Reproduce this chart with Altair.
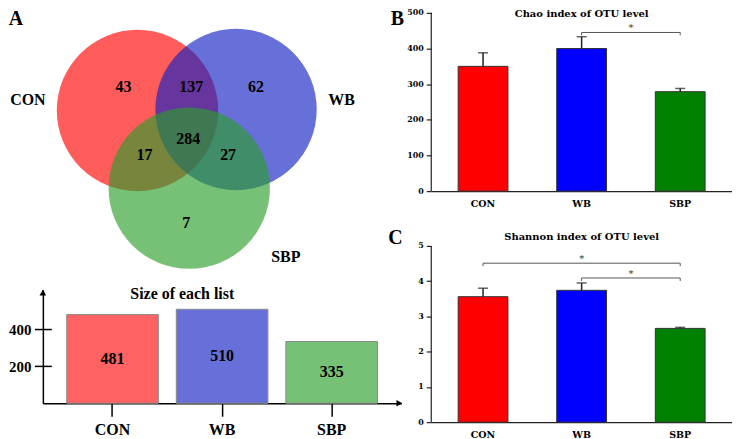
import altair as alt
import pandas as pd

# ---------------- data ----------------
groups = ["CON", "WB", "SBP"]
venn_regions = ["CON", "CON&WB", "WB", "CON&WB&SBP", "CON&SBP", "WB&SBP", "SBP"]
venn_counts = [43, 137, 62, 284, 17, 27, 7]
list_sizes = [481, 510, 335]
chao_mean = [350, 400, 279]
chao_err = [38, 33, 9]
shannon_mean = [3.56, 3.74, 2.66]
shannon_err = [0.24, 0.21, 0.03]
chao_sig_from = ["WB"]
chao_sig_to = ["SBP"]
chao_sig_level = [445]
shannon_sig_from = ["CON", "WB"]
shannon_sig_to = ["SBP", "SBP"]
shannon_sig_level = [4.51, 4.09]
list_axis_ticks = [200, 400]
chao_axis_ticks = [0, 100, 200, 300, 400, 500]
shannon_axis_ticks = [0, 1, 2, 3, 4, 5]
panel_letters = ["A", "B", "C"]

# ---------------- layout geometry (pixels) ----------------
circle_x = [138, 237, 190]
circle_y = [110, 109, 188]
circle_r = 81
count_x = [124, 192, 257, 189, 145, 229, 187]
count_y = [86, 86, 86, 139, 155, 155, 223]
set_label_x = [28, 343, 287]
set_label_y = [100, 100, 257]
letter_x = [16, 399, 397]
letter_y = [18.5, 18.5, 238]

# ---------------- styles ----------------
SERIF = "Liberation Serif"
DSERIF = "DejaVu Serif"
venn_colors = ["#FF0000", "#101FC2", "#2A9E2A"]
list_colors = ["#FF6262", "#6670D8", "#77C177"]
stat_colors = ["#FF0000", "#0000FF", "#008000"]
AX = "#222222"
R_PI, R_PO = 0.495, 0.273
R_W = 302

one = pd.DataFrame({"k": [0]})

# ---------------- panel A: venn ----------------
circ_df = pd.DataFrame({"set": groups, "cx": circle_x, "cy": circle_y, "ord": [0, 1, 2]})
cnt_df = pd.DataFrame({"region": venn_regions, "n": venn_counts, "tx": count_x, "ty": count_y})
lab_df = pd.DataFrame({"set": groups, "lx": set_label_x, "ly": set_label_y})
let_df = pd.DataFrame({"letter": panel_letters, "x": letter_x, "y": letter_y})

vxs = alt.Scale(domain=[43, 403], nice=False, zero=False)
vys = alt.Scale(domain=[8, 272], nice=False, zero=False, reverse=True)

circles = alt.Chart(circ_df).mark_circle(size=(2 * circle_r) ** 2, opacity=0.64).encode(
    x=alt.X("cx:Q", scale=vxs, axis=None),
    y=alt.Y("cy:Q", scale=vys, axis=None),
    color=alt.Color("set:N", scale=alt.Scale(domain=groups, range=venn_colors), legend=None),
    order=alt.Order("ord:Q"),
)
counts = alt.Chart(cnt_df).mark_text(font=SERIF, fontWeight="bold", fontSize=16, color="black").encode(
    x=alt.X("tx:Q", scale=vxs, axis=None),
    y=alt.Y("ty:Q", scale=vys, axis=None),
    text="n:Q",
)
set_labels = alt.Chart(lab_df).mark_text(font=SERIF, fontWeight="bold", fontSize=16, color="black").encode(
    x=alt.X("lx:Q", scale=vxs, axis=None),
    y=alt.Y("ly:Q", scale=vys, axis=None),
    text="set:N",
)
letters = alt.Chart(let_df).mark_text(font=SERIF, fontWeight="bold", fontSize=20, color="black").encode(
    x=alt.X("x:Q", scale=vxs, axis=None),
    y=alt.Y("y:Q", scale=vys, axis=None),
    text="letter:N",
)
venn = alt.layer(circles, counts, set_labels, letters).properties(width=360, height=264)

# ---------------- panel A: size of each list ----------------
list_df = pd.DataFrame({"group": groups, "size": list_sizes})
lxs = alt.Scale(domain=groups, paddingInner=0.164, paddingOuter=0.218)
lys = alt.Scale(domain=[0, 616], nice=False)
lxa = alt.Axis(
    title=None, labelAngle=0, labelFont=SERIF, labelFontWeight="bold", labelFontSize=16,
    labelColor="black", domainColor="black", domainWidth=1.5, tickColor="black",
    tickWidth=1.5, tickSize=13, labelPadding=5)
lya = alt.Axis(
    title=None, values=list_axis_ticks, grid=False, ticks=False, domainColor="black",
    domainWidth=1.5, labelFont=SERIF, labelFontWeight="bold", labelFontSize=15,
    labelColor="black", labelPadding=12)
lx = alt.X("group:N", scale=lxs, sort=groups, axis=lxa)

lbars = alt.Chart(list_df).mark_bar(stroke="#8a8a8a", strokeWidth=1).encode(
    x=lx, y=alt.Y("size:Q", scale=lys, axis=lya),
    color=alt.Color("group:N", scale=alt.Scale(domain=groups, range=list_colors), legend=None),
)
lbar_text = alt.Chart(list_df).transform_calculate(mid="datum.size / 2").mark_text(
    font=SERIF, fontWeight="bold", fontSize=16, color="black").encode(
    x=lx, y=alt.Y("mid:Q", scale=lys, axis=lya), text="size:Q",
)
cross_ticks = alt.Chart(pd.DataFrame({"v": list_axis_ticks})).mark_rule(color="black", strokeWidth=1.5).encode(
    x=alt.value(-8), x2=alt.value(9), y=alt.Y("v:Q", scale=lys, axis=lya)
)
arrow_up = alt.Chart(one).mark_point(shape="triangle-up", filled=True, size=45, color="black", opacity=1).encode(
    x=alt.value(0), y=alt.value(3))
arrow_right = alt.Chart(one).mark_point(shape="triangle-right", filled=True, size=45, color="black", opacity=1).encode(
    x=alt.value(358), y=alt.value(114))
list_title = alt.Chart(one).mark_text(text="Size of each list", font=SERIF, fontWeight="bold",
                                      fontSize=16, color="black").encode(x=alt.value(140), y=alt.value(4))
listbar = alt.layer(lbars, lbar_text, cross_ticks, arrow_up, arrow_right, list_title).properties(
    width=360, height=114)


# ---------------- panels B and C ----------------
def stat_panel(means, errs, tick_vals, y_top, height, title, title_y,
               sig_from, sig_to, sig_level, drop):
    df = pd.DataFrame({"group": groups, "mean": means, "err": errs})
    xs = alt.Scale(domain=groups, paddingInner=R_PI, paddingOuter=R_PO)
    ys = alt.Scale(domain=[0, y_top], nice=False, zero=True)
    xa = alt.Axis(
        title=None, labelAngle=0, labelFont=DSERIF, labelFontWeight="bold", labelFontSize=9.5,
        labelColor="black", domainColor=AX, domainWidth=1.2, ticks=False, labelPadding=7)
    ya = alt.Axis(
        title=None, values=tick_vals, grid=False, domain=False, tickColor=AX, tickSize=5,
        tickWidth=1.2, labelFont=DSERIF, labelFontWeight="bold", labelFontSize=8,
        labelColor="black", labelPadding=3)

    def X(f):
        return alt.X(f, scale=xs, sort=groups, axis=xa)

    def Y(f):
        return alt.Y(f, scale=ys, axis=ya)

    bars = alt.Chart(df).mark_bar(stroke="#333333", strokeWidth=1).encode(
        x=X("group:N"), y=Y("mean:Q"),
        color=alt.Color("group:N", scale=alt.Scale(domain=groups, range=stat_colors), legend=None))
    ebase = alt.Chart(df).transform_calculate(top="datum.mean + datum.err")
    eline = ebase.mark_rule(color=AX, strokeWidth=1.5).encode(x=X("group:N"), y=Y("mean:Q"), y2="top:Q")
    ecap = ebase.mark_tick(orient="horizontal", size=10, thickness=1.5, color=AX).encode(
        x=X("group:N"), y=Y("top:Q"))
    yline = alt.Chart(pd.DataFrame({"lo": [tick_vals[0]], "hi": [tick_vals[-1]]})).mark_rule(
        color=AX, strokeWidth=1.2).encode(x=alt.value(0), y=Y("lo:Q"), y2="hi:Q")

    layers = [bars, eline, ecap, yline]

    br = pd.DataFrame({"a": sig_from, "b": sig_to, "level": sig_level})
    layers.append(alt.Chart(br).mark_rule(color="#555555", strokeWidth=1).encode(
        x=X("a:N"), x2="b:N", y=Y("level:Q")))
    ends = pd.DataFrame({
        "cat": list(sig_from) + list(sig_to),
        "level": list(sig_level) * 2,
    })
    layers.append(alt.Chart(ends).transform_calculate(low=f"datum.level - {drop}").mark_rule(
        color="#555555", strokeWidth=1).encode(x=X("cat:N"), y=Y("level:Q"), y2="low:Q"))
    step = R_W / (len(groups) - R_PI + 2 * R_PO)
    for a, b, lev in zip(sig_from, sig_to, sig_level):
        m = (groups.index(a) + groups.index(b)) / 2
        cat = groups[int(m)]
        off = (m - int(m)) * step
        sdf = pd.DataFrame({"cat": [cat], "level": [lev]})
        layers.append(alt.Chart(sdf).mark_text(text="*", font=DSERIF, fontSize=10, color="#333333",
                                               baseline="alphabetic", dy=-1, xOffset=off).encode(
            x=X("cat:N"), y=Y("level:Q")))
    layers.append(alt.Chart(one).mark_text(text=title, font=DSERIF, fontWeight="bold", fontSize=10,
                                           color="black").encode(x=alt.value(R_W / 2), y=alt.value(title_y)))
    return alt.layer(*layers).properties(width=R_W, height=height)


chao = stat_panel(chao_mean, chao_err, chao_axis_ticks, 500 * 183 / 179, 183,
                  "Chao index of OTU level", 5,
                  chao_sig_from, chao_sig_to, chao_sig_level, 8)
shannon = stat_panel(shannon_mean, shannon_err, shannon_axis_ticks, 5 * 195 / 177, 195,
                     "Shannon index of OTU level", 9,
                     shannon_sig_from, shannon_sig_to, shannon_sig_level, 0.085)

left = alt.vconcat(venn, listbar, spacing=14).resolve_scale(color="independent")
right = alt.vconcat(chao, shannon, spacing=20).resolve_scale(color="independent")

chart = alt.hconcat(left, right, spacing=2).resolve_scale(
    color="independent").properties(padding=0, background="white").configure_view(stroke=None)

chart.save("out.html", embed_options={"renderer": "svg", "actions": False})
